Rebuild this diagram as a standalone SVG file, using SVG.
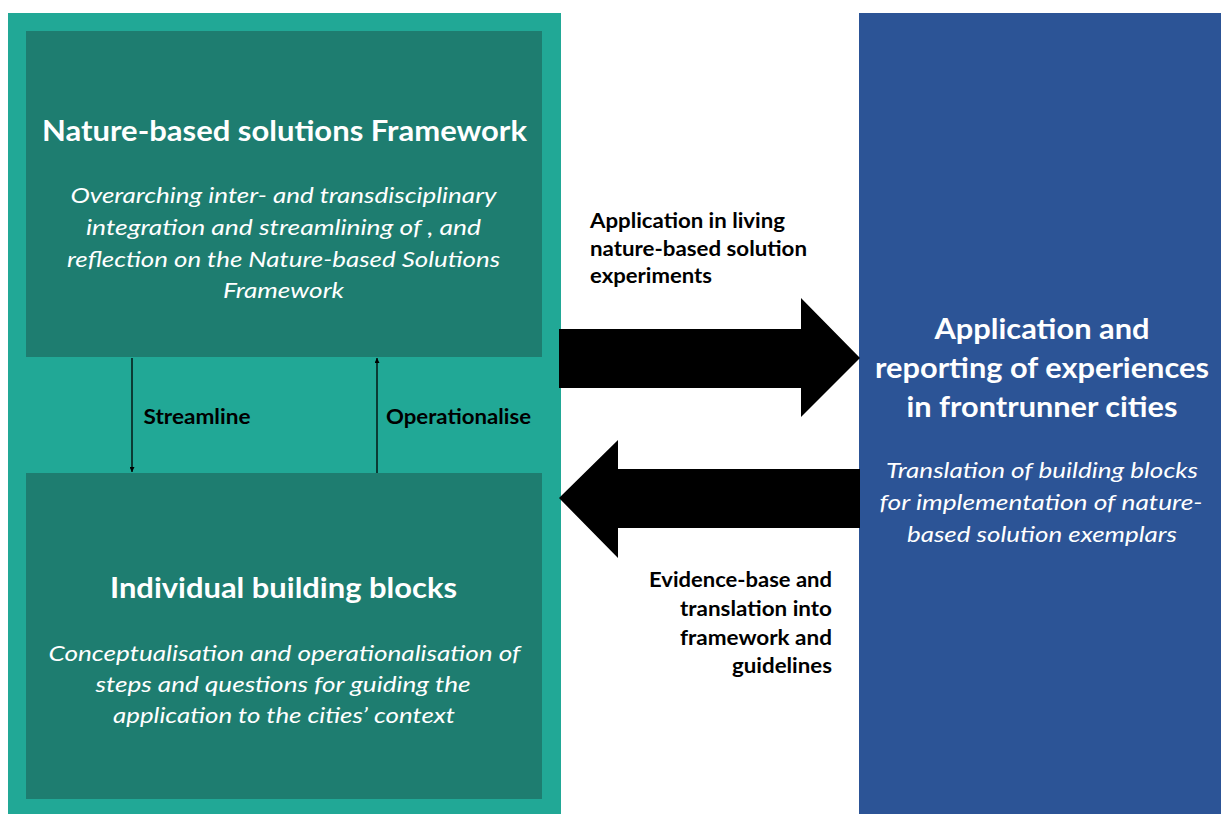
<svg xmlns="http://www.w3.org/2000/svg" width="1221" height="814" viewBox="0 0 1221 814">
<style>
.t{font-family:Lato,"Open Sans","Liberation Sans",sans-serif;}
.h{font-weight:bold;fill:#fff;font-size:28px;}
.i{font-style:italic;fill:#fff;font-size:21.5px;}
.l{font-weight:bold;fill:#000;font-size:20.5px;}
.outer{fill:#21A896;}
.inner{fill:#1E7D70;}
.blue{fill:#2C5496;}
</style>
<defs>
<marker id="ah" viewBox="0 0 10 10" refX="10" refY="5" markerWidth="5" markerHeight="5" orient="auto" markerUnits="userSpaceOnUse">
<path d="M0,0 L10,5 L0,10 z" fill="#000"/>
</marker>
</defs>
<rect width="1221" height="814" fill="#fff"/>
<g id="outer-panel"><rect class="outer" x="8" y="13" width="553" height="801"/></g>
<g id="blue-panel">
<rect class="blue" x="859" y="13" width="362" height="801"/>
<text class="t h" x="1042" y="339" text-anchor="middle" textLength="215" lengthAdjust="spacingAndGlyphs">Application and</text>
<text class="t h" x="1042" y="378" text-anchor="middle" textLength="334" lengthAdjust="spacingAndGlyphs">reporting of experiences</text>
<text class="t h" x="1042" y="417" text-anchor="middle" textLength="271" lengthAdjust="spacingAndGlyphs">in frontrunner cities</text>
<text class="t i" x="1042" y="478" text-anchor="middle" textLength="312" lengthAdjust="spacingAndGlyphs">Translation of building blocks</text>
<text class="t i" x="1041" y="510" text-anchor="middle" textLength="323" lengthAdjust="spacingAndGlyphs">for implementation of nature-</text>
<text class="t i" x="1042" y="542" text-anchor="middle" textLength="270" lengthAdjust="spacingAndGlyphs">based solution exemplars</text>
</g>
<g id="framework">
<rect class="inner" x="26" y="31" width="516" height="326"/>
<text class="t h" x="284.5" y="141" text-anchor="middle" textLength="485" lengthAdjust="spacingAndGlyphs">Nature-based solutions Framework</text>
<text class="t i" x="283.5" y="203" text-anchor="middle" textLength="426" lengthAdjust="spacingAndGlyphs">Overarching inter- and transdisciplinary</text>
<text class="t i" x="283.5" y="235" text-anchor="middle" textLength="395" lengthAdjust="spacingAndGlyphs">integration and streamlining of , and</text>
<text class="t i" x="283.5" y="267" text-anchor="middle" textLength="433" lengthAdjust="spacingAndGlyphs">reflection on the Nature-based Solutions</text>
<text class="t i" x="283.5" y="298" text-anchor="middle" textLength="121" lengthAdjust="spacingAndGlyphs">Framework</text>
</g>
<g id="building-blocks">
<rect class="inner" x="26" y="473" width="516" height="326"/>
<text class="t h" x="283.5" y="598" text-anchor="middle" textLength="347" lengthAdjust="spacingAndGlyphs">Individual building blocks</text>
<text class="t i" x="284.5" y="661" text-anchor="middle" textLength="472" lengthAdjust="spacingAndGlyphs">Conceptualisation and operationalisation of</text>
<text class="t i" x="283" y="692" text-anchor="middle" textLength="375" lengthAdjust="spacingAndGlyphs">steps and questions for guiding the</text>
<text class="t i" x="284" y="723" text-anchor="middle" textLength="342" lengthAdjust="spacingAndGlyphs">application to the cities’ context</text>
</g>
<g id="connectors">
<line x1="132" y1="358" x2="132" y2="472" stroke="#000" stroke-width="1.3" marker-end="url(#ah)"/>
<line x1="377" y1="473" x2="377" y2="358" stroke="#000" stroke-width="1.3" marker-end="url(#ah)"/>
<text class="t l" x="143.5" y="424" textLength="107" lengthAdjust="spacingAndGlyphs">Streamline</text>
<text class="t l" x="386" y="424" textLength="145" lengthAdjust="spacingAndGlyphs">Operationalise</text>
<polygon points="559,329 801,329 801,298 860,358 801,417 801,388 559,388" fill="#000"/>
<polygon points="860,469 618,469 618,440 559,498 618,558 618,528 860,528" fill="#000"/>
<text class="t l" x="590" y="228" textLength="195" lengthAdjust="spacingAndGlyphs">Application in living</text>
<text class="t l" x="590" y="256" textLength="217" lengthAdjust="spacingAndGlyphs">nature-based solution</text>
<text class="t l" x="590" y="283" textLength="122" lengthAdjust="spacingAndGlyphs">experiments</text>
<text class="t l" x="832" y="587" text-anchor="end" textLength="183" lengthAdjust="spacingAndGlyphs">Evidence-base and</text>
<text class="t l" x="832" y="616" text-anchor="end" textLength="152" lengthAdjust="spacingAndGlyphs">translation into</text>
<text class="t l" x="832" y="645" text-anchor="end" textLength="152" lengthAdjust="spacingAndGlyphs">framework and</text>
<text class="t l" x="832" y="673" text-anchor="end" textLength="100" lengthAdjust="spacingAndGlyphs">guidelines</text>
</g>
</svg>
